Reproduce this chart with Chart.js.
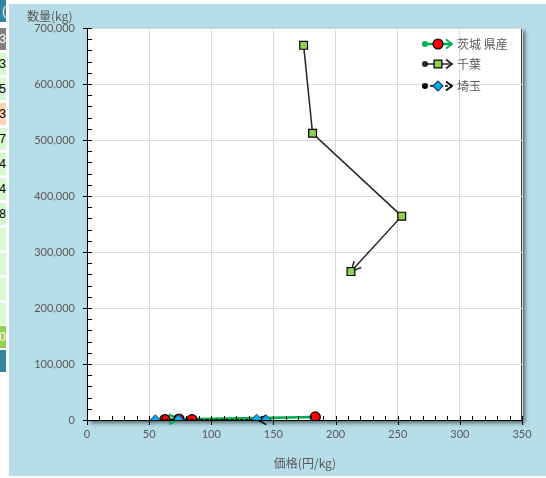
<!DOCTYPE html>
<html>
<head>
<meta charset="utf-8">
<script src="https://cdn.jsdelivr.net/npm/chart.js@4.4.1/dist/chart.umd.min.js"></script>
<style>
  body { margin:0; width:546px; height:478px; background:#fff; position:relative; overflow:hidden; font-family:"Noto Sans CJK JP", sans-serif; }
  .cell { position:absolute; left:0; width:6px; overflow:hidden; font:12px "Liberation Sans", sans-serif; line-height:22px; direction:rtl; text-align:right; color:#000; }
  #wrap { position:absolute; left:9px; top:4px; width:537px; height:472px; background:#b7dde8; }
</style>
</head>
<body>
<div id="cells"></div>
<div id="wrap"><canvas id="chart" width="537" height="472"></canvas></div>
<script>
// prices (円/kg) and quantities (kg)
const labels = ["茨城 県産", "千葉", "埼玉"];
const priceIbaraki = [84.5, 183.7, 62.7, 74];
const qtyIbaraki = [500, 5500, 800, 1800];
const priceChiba = [174.3, 181.5, 253.2, 212.4];
const qtyChiba = [669000, 512000, 364000, 265000];
const priceSaitama = [55, 73.5, 144, 136.5];
const qtySaitama = [300, 600, 200, 1200];

// spreadsheet cells peeking in on the left
const cellRows = [
  [0, "#31859c", ")", "#fff"], [28, "#7f7f7f", "3", "#fff"], [53, "#d8f8d0", "3"], [78, "#d8f8d0", "5"],
  [103, "#fcd5b4", "3"], [128, "#d8f8d0", "7"], [153, "#d8f8d0", "4"], [178, "#d8f8d0", "4"],
  [203, "#d8f8d0", "8"], [228, "#d8f8d0", ""], [253, "#d8f8d0", ""], [278, "#d8f8d0", ""],
  [303, "#d8f8d0", ""], [326, "#92d050", "0", "#fff"], [350, "#31859c", ""]
];
const cellsDiv = document.getElementById("cells");
cellRows.forEach(r => {
  const d = document.createElement("div");
  d.className = "cell";
  d.style.top = r[0] + "px";
  d.style.height = "22px";
  d.style.background = r[1];
  d.style.color = r[3] || "#000";
  d.textContent = r[2];
  cellsDiv.appendChild(d);
});

const toPts = (xs, ys) => xs.map((x, i) => ({x: x, y: ys[i]}));
const txtColor = "#595959";

function drawArrow(ctx, x0, y0, x1, y1, color, len, lw) {
  const a = Math.atan2(y1 - y0, x1 - x0);
  ctx.save();
  ctx.strokeStyle = color;
  ctx.lineWidth = lw;
  ctx.beginPath();
  ctx.moveTo(x1 - len * Math.cos(a - 0.45), y1 - len * Math.sin(a - 0.45));
  ctx.lineTo(x1, y1);
  ctx.lineTo(x1 - len * Math.cos(a + 0.45), y1 - len * Math.sin(a + 0.45));
  ctx.stroke();
  ctx.restore();
}

const excelLook = {
  id: "excelLook",
  beforeDraw(chart) {
    const {ctx, chartArea: a} = chart;
    ctx.save();
    ctx.shadowColor = "rgba(0,0,0,0.55)";
    ctx.shadowBlur = 4;
    ctx.shadowOffsetX = 3;
    ctx.shadowOffsetY = 3;
    ctx.fillStyle = "#fff";
    ctx.fillRect(a.left, a.top, a.right - a.left, a.bottom - a.top);
    ctx.restore();
    ctx.save();
    ctx.strokeStyle = "#404040";
    ctx.lineWidth = 1;
    ctx.strokeRect(a.left + 0.5, a.top + 0.5, a.right - a.left - 1, a.bottom - a.top);
    ctx.restore();
  },
  beforeDatasetDraw(chart, args) {
    const ds = chart.data.datasets[args.index];
    const pts = args.meta.data;
    const n = pts.length;
    drawArrow(chart.ctx, pts[n - 2].x, pts[n - 2].y, pts[n - 1].x, pts[n - 1].y, ds.borderColor, 11, ds.borderWidth);
  },
  afterDatasetsDraw(chart) {
    const {ctx, chartArea: a, scales} = chart;
    ctx.save();
    ctx.strokeStyle = "#000";
    ctx.lineWidth = 1;
    ctx.beginPath();
    ctx.moveTo(a.left + 0.5, a.top);
    ctx.lineTo(a.left + 0.5, a.bottom);
    ctx.moveTo(a.left, a.bottom + 0.5);
    ctx.lineTo(a.right, a.bottom + 0.5);
    // y ticks
    for (let v = 0; v <= 700000; v += 20000) {
      const y = Math.round(scales.y.getPixelForValue(v)) + 0.5;
      const major = v % 100000 === 0;
      ctx.moveTo(a.left - (major ? 4 : 0), y);
      ctx.lineTo(a.left + 5, y);
    }
    // x ticks
    for (let v = 0; v <= 350; v += 10) {
      const x = Math.round(scales.x.getPixelForValue(v)) + 0.5;
      const major = v % 50 === 0;
      ctx.moveTo(x, a.bottom + (major ? 5 : 0));
      ctx.lineTo(x, a.bottom - 4);
    }
    ctx.stroke();
    ctx.restore();
  },
  afterDraw(chart) {
    const ctx = chart.ctx;
    ctx.save();
    ctx.fillStyle = txtColor;
    ctx.font = '12px "Noto Sans CJK JP"';
    ctx.textBaseline = "middle";
    ctx.textAlign = "left";
    ctx.fillText("数量(kg)", 18, 12);
    ctx.textAlign = "center";
    ctx.fillText("価格(円/kg)", 296, 459);

    // legend
    const rows = [40, 60, 82];
    chart.data.datasets.forEach((ds, i) => {
      const y = rows[i];
      const x0 = 416, x1 = 443;
      ctx.strokeStyle = ds.borderColor;
      ctx.fillStyle = ds.borderColor;
      ctx.lineWidth = ds.borderWidth;
      ctx.setLineDash(ds.borderDash || []);
      ctx.beginPath();
      ctx.moveTo(x0, y);
      ctx.lineTo(x1, y);
      ctx.stroke();
      ctx.setLineDash([]);
      ctx.beginPath();
      ctx.arc(x0, y, 3, 0, Math.PI * 2);
      ctx.fill();
      ctx.lineWidth = 1.8;
      ctx.beginPath();
      ctx.moveTo(x1 - 6, y - 4.5);
      ctx.lineTo(x1, y);
      ctx.lineTo(x1 - 6, y + 4.5);
      ctx.stroke();
      ctx.fillStyle = ds.pointBackgroundColor;
      ctx.strokeStyle = ds.pointBorderColor;
      ctx.lineWidth = 1.2;
      Chart.helpers.drawPoint(ctx, {pointStyle: ds.pointStyle, radius: ds.pointRadius, rotation: 0, borderWidth: 1.2}, 429, y);
      ctx.fillStyle = txtColor;
      ctx.textAlign = "left";
      ctx.font = '12px "Noto Sans CJK JP"';
      ctx.fillText(ds.label, 448, y);
    });
    ctx.restore();
  }
};

new Chart(document.getElementById("chart"), {
  type: "scatter",
  data: {
    datasets: [
      {
        label: labels[0],
        data: toPts(priceIbaraki, qtyIbaraki),
        showLine: true,
        borderColor: "#00b050",
        borderWidth: 2.5,
        pointStyle: "circle",
        pointRadius: 5,
        pointBackgroundColor: "#ff0000",
        pointBorderColor: "#000",
        pointBorderWidth: 1.2,
        order: 3
      },
      {
        label: labels[1],
        data: toPts(priceChiba, qtyChiba),
        showLine: true,
        borderColor: "#262626",
        borderWidth: 1.5,
        pointStyle: "rect",
        pointRadius: 5.5,
        pointBackgroundColor: "#92d050",
        pointBorderColor: "#000",
        pointBorderWidth: 1.2,
        order: 2
      },
      {
        label: labels[2],
        data: toPts(priceSaitama, qtySaitama),
        showLine: true,
        borderColor: "#000",
        borderWidth: 1.5,
        borderDash: [3, 2],
        pointStyle: "rectRot",
        pointRadius: 5,
        pointBackgroundColor: "#00b0f0",
        pointBorderColor: "#1f3864",
        pointBorderWidth: 1,
        order: 1
      }
    ]
  },
  options: {
    responsive: false,
    animation: false,
    devicePixelRatio: 1,
    layout: { padding: { left: 0, top: 24, right: 24, bottom: 0 } },
    plugins: { legend: { display: false }, title: { display: false }, tooltip: { enabled: false } },
    scales: {
      x: {
        type: "linear",
        min: 0, max: 350,
        ticks: { stepSize: 50, color: txtColor, font: { family: "Lato", size: 11 }, padding: 8 },
        grid: { color: "#d9d9d9", drawTicks: false },
        border: { display: false },
        afterFit(s) { s.height = 56; }
      },
      y: {
        type: "linear",
        min: 0, max: 700000,
        ticks: {
          stepSize: 100000, color: txtColor, font: { family: "Lato", size: 11 }, padding: 12,
          callback: v => v.toLocaleString("en-US")
        },
        grid: { color: "#d9d9d9", drawTicks: false },
        border: { display: false },
        afterFit(s) { s.width = 78; }
      }
    }
  },
  plugins: [excelLook]
});
</script>
</body>
</html>
